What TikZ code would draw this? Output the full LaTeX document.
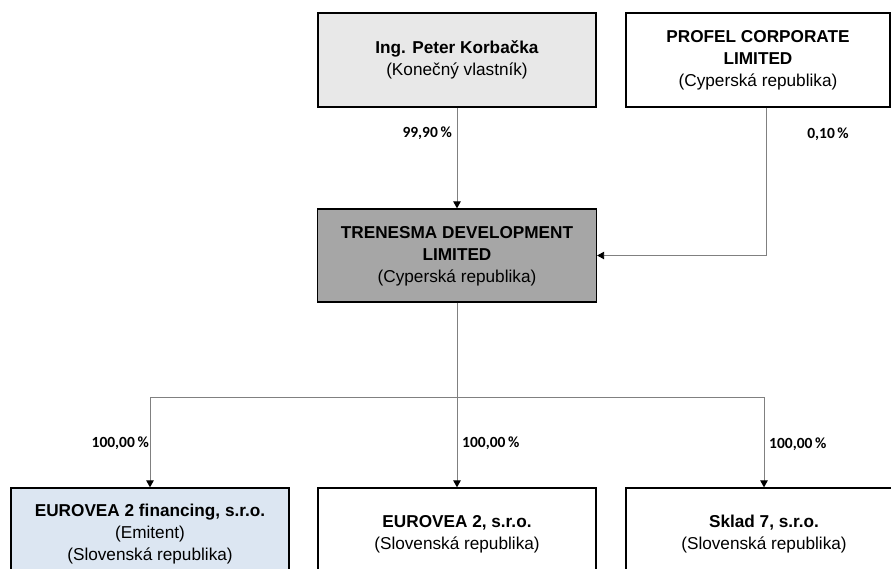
\documentclass[tikz,border=0pt]{standalone}
\usepackage{fontspec}
\setmainfont{Liberation Sans}
\newfontfamily\pctfont{Carlito}
\usetikzlibrary{arrows.meta}

\begin{document}
\begin{tikzpicture}[x=1pt,y=-1pt,
  entity/.style={draw=black,line width=1.3pt,align=center,inner sep=0pt,
    font=\fontsize{17.2}{22}\selectfont},
  plain line/.style={draw=gray,line width=0.9pt},
  link/.style={plain line,-{Triangle[length=7pt,width=7.5pt,black]}},
  share/.style={font=\pctfont\bfseries\fontsize{15.5}{18}\selectfont,text=black,inner sep=0pt}]
\useasboundingbox (0,0) rectangle (891,568);

% owners
\node[entity,fill=black!9,minimum width=278pt,minimum height=94pt] (korbacka) at (457,60) {\textbf{Ing. Peter Korbačka}\\(Konečný vlastník)};
\node[entity,fill=white,minimum width=264pt,minimum height=94pt] (profel) at (758,60) {\textbf{PROFEL CORPORATE}\\\textbf{LIMITED}\\(Cyperská republika)};

% holding
\node[entity,fill=black!35,minimum width=279pt,minimum height=93pt,text depth=3pt] (trenesma) at (457,255.5) {\textbf{TRENESMA DEVELOPMENT}\\\textbf{LIMITED}\\(Cyperská republika)};

% subsidiaries
\node[entity,fill={rgb,255:red,220;green,230;blue,242},minimum width=278pt,minimum height=92pt] (emitent) at (150,534) {\textbf{EUROVEA~2 financing, s.r.o.}\\(Emitent)\\(Slovenská republika)};
\node[entity,fill=white,minimum width=278pt,minimum height=92pt] (eurovea) at (457,534) {\textbf{EUROVEA~2, s.r.o.}\\(Slovenská republika)};
\node[entity,fill=white,minimum width=276pt,minimum height=92pt] (sklad) at (764,534) {\textbf{Sklad 7, s.r.o.}\\(Slovenská republika)};

% shares
\draw[link] (korbacka) -- (trenesma);
\node[share,anchor=east] (pctkorbacka) at (452,133) {99,90\,\%};
\draw[link] ([xshift=8pt]profel.south) |- (trenesma.east);
\node[share] (pctprofel) at (828,134) {0,10\,\%};

\coordinate (bus) at (457,397);
\draw[plain line] (trenesma.south) -- (bus);
\draw[link] (bus) -| (emitent.north);
\draw[link] (bus) -- (eurovea.north);
\draw[link] (bus) -| (sklad.north);
\node[share,anchor=east] (pctemitent) at (149,443) {100,00\,\%};
\node[share,anchor=west] (pcteurovea) at (462,443) {100,00\,\%};
\node[share,anchor=west] (pctsklad) at (769,444) {100,00\,\%};

\end{tikzpicture}
\end{document}
